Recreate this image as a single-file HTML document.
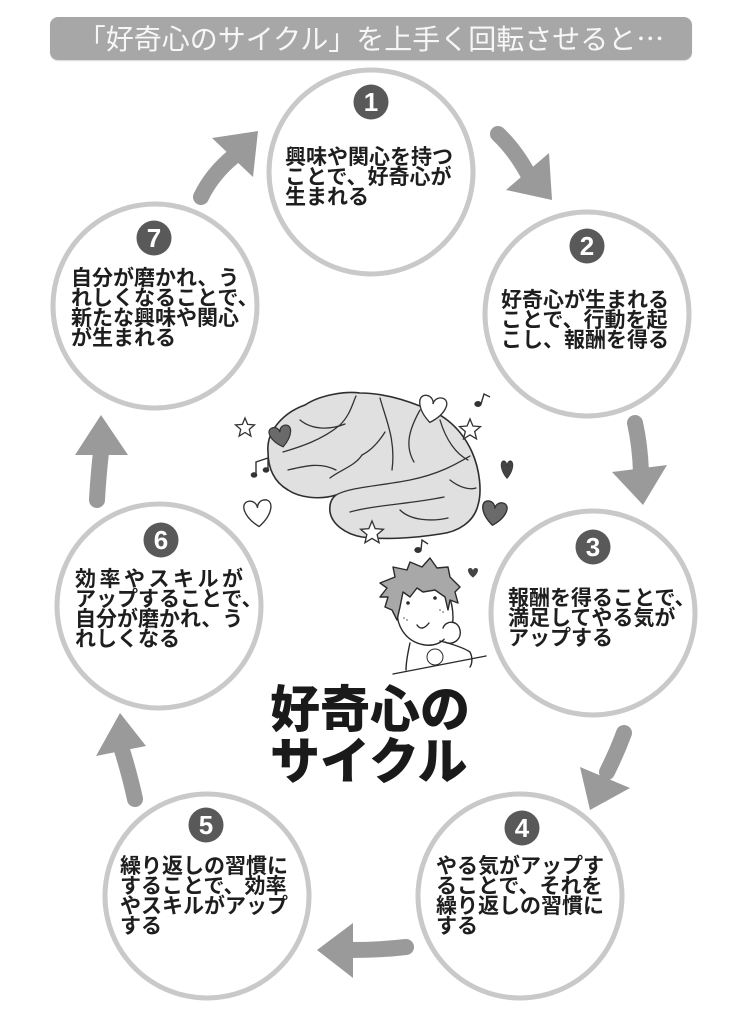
<!DOCTYPE html>
<html><head><meta charset="utf-8">
<style>
html,body{margin:0;padding:0;background:#fff;}
#wrap{position:relative;width:747px;height:1024px;overflow:hidden;background:#fff;}
svg{position:absolute;left:0;top:0;}
.banner{position:absolute;left:50px;top:17px;width:642px;height:43px;background:#a7a7a7;border-radius:8px;box-shadow:0 1px 1px #d8d8d8;color:#f7f7f7;font-family:"Noto Sans CJK JP","Liberation Sans",sans-serif;font-size:28px;line-height:43px;text-align:center;letter-spacing:0px;white-space:nowrap;}
.t{position:absolute;font-family:"Liberation Sans","Noto Sans CJK JP",sans-serif;font-weight:700;font-size:21px;line-height:20px;color:#1e1e1e;white-space:nowrap;}
.big{position:absolute;left:270px;top:684px;font-family:"Liberation Sans","Noto Sans CJK JP",sans-serif;font-weight:900;font-size:50px;line-height:52px;color:#1a1a1a;white-space:nowrap;}
</style></head><body>
<div id="wrap">
<svg width="747" height="1024" viewBox="0 0 747 1024" xmlns="http://www.w3.org/2000/svg">
<defs>
<path id="heart" d="M0,0.42 C-0.5,0.05 -0.58,-0.42 -0.27,-0.45 C-0.1,-0.46 0,-0.32 0,-0.2 C0,-0.32 0.1,-0.46 0.27,-0.45 C0.58,-0.42 0.5,0.05 0,0.42Z"/>
<path id="star" d="M0,-1 L0.265,-0.364 L0.951,-0.309 L0.428,0.139 L0.588,0.809 L0,0.45 L-0.588,0.809 L-0.428,0.139 L-0.951,-0.309 L-0.265,-0.364Z"/>
</defs>
<g fill="#fff" stroke="#c9c9c9" stroke-width="5">
<circle cx="371" cy="172" r="102"/>
<circle cx="587" cy="314" r="102"/>
<circle cx="593" cy="613" r="102"/>
<circle cx="520" cy="896" r="102"/>
<circle cx="207" cy="896" r="102"/>
<circle cx="159" cy="606" r="102"/>
<circle cx="155" cy="306" r="102"/>
</g>
<g stroke="#9a9a9a" stroke-width="16" stroke-linecap="round" fill="none">
<path d="M201,197 Q212,174 234,156"/>
<path d="M498,134 Q515,150 528,174"/>
<path d="M635,423 Q640,445 641,472"/>
<path d="M624,733 Q617,752 607,772"/>
<path d="M406,947 Q380,950 350,950"/>
<path d="M135,799 Q130,776 122,750"/>
<path d="M97,500 Q98,480 101,452"/>
</g>
<g fill="#9a9a9a">
<polygon points="212,138 258,131 253,177"/>
<polygon points="506,190 549,153 552,200"/>
<polygon points="612,472 667,465 643,505"/>
<polygon points="580,767 630,788 590,810"/>
<polygon points="353,923 317,950 353,978"/>
<polygon points="96,756 120,713 146,746"/>
<polygon points="75,455 101,415 128,455"/>
</g>
<g font-family="Liberation Sans, sans-serif" font-weight="bold" font-size="26" fill="#fff" text-anchor="middle">
<circle cx="371" cy="102" r="17.5" fill="#595959"/><text x="371" y="111">1</text>
<circle cx="587" cy="246" r="17.5" fill="#595959"/><text x="587" y="255">2</text>
<circle cx="593" cy="547" r="17.5" fill="#595959"/><text x="593" y="556">3</text>
<circle cx="522" cy="828" r="17.5" fill="#595959"/><text x="522" y="837">4</text>
<circle cx="206" cy="825" r="17.5" fill="#595959"/><text x="206" y="834">5</text>
<circle cx="161" cy="540" r="17.5" fill="#595959"/><text x="161" y="549">6</text>
<circle cx="154" cy="238" r="17.5" fill="#595959"/><text x="154" y="247">7</text>
</g>
<path d="M268,452 C266,430 285,412 305,405 C320,395 345,391 360,393 C380,393 400,398 420,406 C445,414 462,430 472,452 C480,470 482,492 478,505 C474,522 458,532 440,534 C415,538 385,540 362,537 C345,534 332,524 330,512 C329,503 332,498 336,495 C320,500 300,498 288,490 C274,482 268,468 268,452 Z" fill="#e0e0e0" stroke="#2e2e2e" stroke-width="1.6"/>
<g fill="none" stroke="#333" stroke-width="1.3" stroke-linecap="round">
<path d="M336,495 C350,487 380,486 410,480 C440,474 458,463 470,456"/>
<path d="M283,452 C300,447 322,440 340,425 C350,415 352,405 356,396"/>
<path d="M380,398 C386,420 396,440 392,470"/>
<path d="M420,410 C410,428 404,445 414,462"/>
<path d="M288,470 C305,466 320,462 336,470"/>
<path d="M440,420 C446,440 456,454 468,460"/>
<path d="M350,512 C375,505 410,504 444,497"/>
<path d="M300,420 C312,430 330,430 345,424"/>
<path d="M362,455 C372,450 380,440 385,432"/>
<path d="M400,510 C410,520 430,522 448,518"/>
<path d="M330,478 C340,470 355,466 362,455"/>
<path d="M450,480 C460,488 470,490 476,488"/>
</g>
<g fill="#fff" stroke="#333" stroke-width="1.3">
<use href="#star" transform="translate(245,428) scale(10)" style="stroke-width:0.13"/>
<use href="#star" transform="translate(372,533) scale(12)" style="stroke-width:0.11"/>
<use href="#star" transform="translate(470,430) scale(11)" style="stroke-width:0.12"/>
</g>
<use href="#heart" transform="translate(281,437) rotate(-12) scale(24)" fill="#6a6a6a" stroke="#333" style="stroke-width:0.05"/>
<use href="#heart" transform="translate(432,410) rotate(10) scale(30)" fill="#fff" stroke="#333" style="stroke-width:0.045"/>
<use href="#heart" transform="translate(258,514) rotate(-5) scale(30)" fill="#fff" stroke="#333" style="stroke-width:0.045"/>
<use href="#heart" transform="translate(494,514) rotate(8) scale(27)" fill="#6a6a6a" stroke="#333" style="stroke-width:0.05"/>
<use href="#heart" transform="translate(507,470) scale(13,20)" fill="#444" stroke="#333" style="stroke-width:0.05"/>
<use href="#heart" transform="translate(473,573) scale(11)" fill="#444"/>
<g fill="#333" stroke="#333" stroke-width="1.4">
<ellipse cx="478" cy="404" rx="3" ry="2.3"/><path d="M481,404 L484,394 L490,397" fill="none"/>
<ellipse cx="254" cy="475" rx="2.6" ry="2"/><ellipse cx="266" cy="470" rx="2.6" ry="2"/><path d="M256,475 L256,462 L268,458 L268,470" fill="none"/>
<ellipse cx="418" cy="550" rx="3" ry="2.3"/><path d="M421,550 L422,540 L428,544" fill="none"/>
</g>
<g stroke="#2a2a2a" stroke-width="1.4" stroke-linejoin="round" stroke-linecap="round">
<path d="M398,604 C394,624 405,642 425,645 C441,647 453,635 453,618 C453,608 451,600 448,594" fill="#fff"/>
<polygon points="380,583 395,577 393,567 407,570 410,562 422,567 430,558 437,568 448,567 450,577 460,587 455,592 458,603 450,600 448,610 445,597 435,590 423,592 417,588 410,597 403,592 400,607 397,620 392,610 385,607 388,597 380,597 387,588" fill="#a8a8a8"/>
<path d="M417,625 Q422,632 429,623" fill="none"/>
<path d="M443,628 C446,620 458,620 460,630 C462,640 452,646 445,642" fill="#fff"/>
<path d="M410,643 C408,652 406,662 406,670" fill="none"/>
<path d="M440,641 C452,644 464,648 470,652 C473,658 472,664 470,667" fill="none"/>
<path d="M393,674 L486,656" fill="none"/>
<circle cx="435" cy="657" r="8" fill="#fff" stroke-width="1"/>
</g>
<g fill="#2a2a2a">
<circle cx="408" cy="603" r="1.8"/><circle cx="435" cy="598" r="1.8"/>
</g>
<g fill="#999"><circle cx="404" cy="618" r="1"/><circle cx="407" cy="620" r="1"/><circle cx="440" cy="610" r="1"/><circle cx="443" cy="612" r="1"/></g>
</svg>

<div class="banner">「好奇心のサイクル」を上手く回転させると…</div>

<div class="t" style="left:285px;top:148px;">興味や関心を持つ<br>ことで、好奇心が<br>生まれる</div>
<div class="t" style="left:501px;top:291px;">好奇心が生まれる<br>ことで、行動を起<br>こし、報酬を得る</div>
<div class="t" style="left:508px;top:589px;">報酬を得ることで、<br>満足してやる気が<br>アップする</div>
<div class="t" style="left:436px;top:857px;">やる気がアップす<br>ることで、それを<br>繰り返しの習慣に<br>する</div>
<div class="t" style="left:120px;top:857px;">繰り返しの習慣に<br>することで、効率<br>やスキルがアップ<br>する</div>
<div class="t" style="left:75px;top:570px;"><span style="letter-spacing:3.5px">効率やスキルが</span><br>アップすることで、<br>自分が磨かれ、う<br>れしくなる</div>
<div class="t" style="left:71px;top:269px;">自分が磨かれ、う<br>れしくなることで、<br>新たな興味や関心<br>が生まれる</div>

<div class="big">好奇心の<br>サイクル</div>
</div>
</body></html>
